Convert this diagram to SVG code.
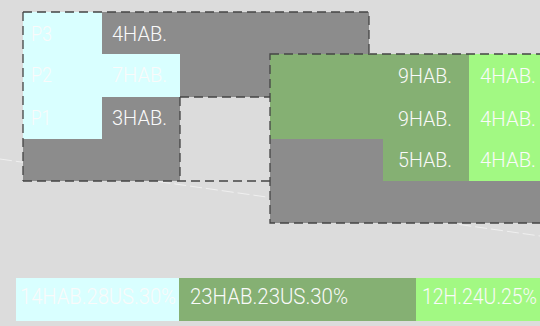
<svg xmlns="http://www.w3.org/2000/svg" width="540" height="326" viewBox="0 0 540 326">
<style>
.t{font-family:Roboto,"Liberation Sans",sans-serif;font-weight:300;font-size:20.5px;fill:#fafafa}
.b{font-size:22px}
.gray{fill:#8c8c8c}
.cyan{fill:#d9ffff}
.green{fill:#85b073}
.lgreen{fill:#a2f983}
.dash{fill:none;stroke:#444;stroke-width:1.3;stroke-dasharray:9 5}
</style>
<rect width="540" height="326" fill="#dcdcdc"/>
<line x1="0" y1="159" x2="540" y2="236" stroke="#fff" stroke-opacity="0.55" stroke-width="1" stroke-dasharray="12 4"/>
<g id="left-building">
<path class="gray" d="M23 12H369V54H270V97H180V181H23Z"/>
<rect class="cyan" x="23" y="12" width="79" height="127"/>
<rect class="cyan" x="102" y="54" width="78" height="43"/>
<text class="t" x="31" y="41" textLength="21" lengthAdjust="spacingAndGlyphs">P3</text>
<text class="t" x="31" y="82" textLength="21" lengthAdjust="spacingAndGlyphs">P2</text>
<text class="t" x="31" y="125" textLength="20" lengthAdjust="spacingAndGlyphs">P1</text>
<text class="t" x="112" y="41" textLength="55" lengthAdjust="spacingAndGlyphs">4HAB.</text>
<text class="t" x="112" y="82" textLength="55" lengthAdjust="spacingAndGlyphs">7HAB.</text>
<text class="t" x="112" y="125" textLength="55" lengthAdjust="spacingAndGlyphs">3HAB.</text>
</g>
<g id="right-building">
<rect class="gray" x="270" y="54" width="275" height="169"/>
<rect class="green" x="270" y="54" width="199" height="85"/>
<rect class="green" x="383" y="139" width="86" height="42"/>
<rect class="lgreen" x="469" y="54" width="76" height="127"/>
<text class="t" x="398" y="83" textLength="54" lengthAdjust="spacingAndGlyphs">9HAB.</text>
<text class="t" x="398" y="126" textLength="54" lengthAdjust="spacingAndGlyphs">9HAB.</text>
<text class="t" x="398" y="167" textLength="54" lengthAdjust="spacingAndGlyphs">5HAB.</text>
<text class="t" x="480" y="83" textLength="56" lengthAdjust="spacingAndGlyphs">4HAB.</text>
<text class="t" x="480" y="126" textLength="56" lengthAdjust="spacingAndGlyphs">4HAB.</text>
<text class="t" x="480" y="167" textLength="56" lengthAdjust="spacingAndGlyphs">4HAB.</text>
</g>
<g id="outlines">
<path class="dash" d="M23 12H369V54M180 97H270M180 97V181M23 181H270M23 12V181"/>
<path class="dash" d="M270 54H545V223H270Z"/>
</g>
<g id="summary">
<rect class="cyan" x="16" y="278" width="163" height="43"/>
<rect class="green" x="179" y="278" width="237" height="43"/>
<rect class="lgreen" x="416" y="278" width="124" height="43"/>
<text class="t b" x="20" y="304" textLength="156" lengthAdjust="spacingAndGlyphs">14HAB.28US.30%</text>
<text class="t b" x="190" y="304" textLength="158" lengthAdjust="spacingAndGlyphs">23HAB.23US.30%</text>
<text class="t b" x="422" y="304" textLength="115" lengthAdjust="spacingAndGlyphs">12H.24U.25%</text>
</g>
</svg>
